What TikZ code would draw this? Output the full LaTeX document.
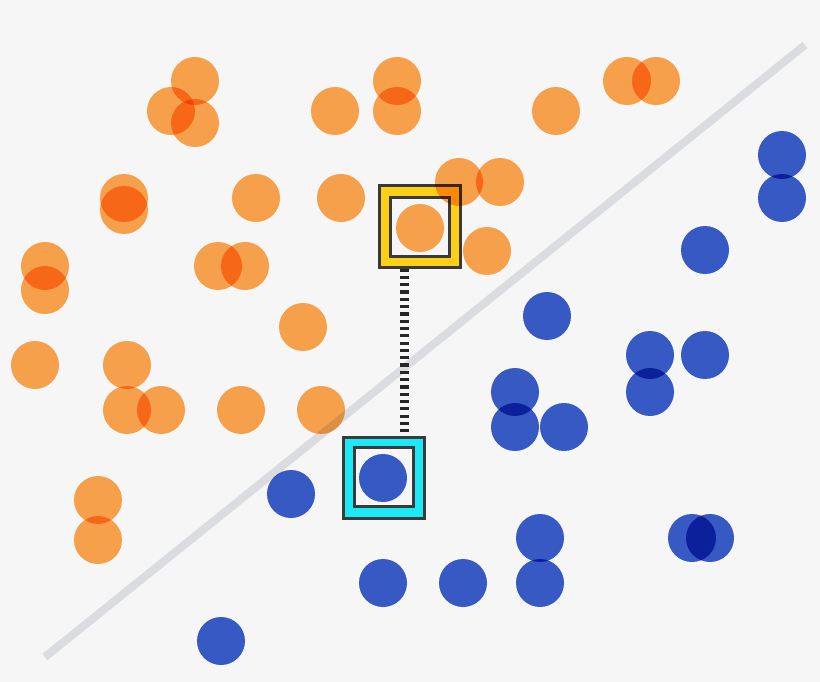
\documentclass[tikz,border=0pt]{standalone}
\definecolor{bgc}{RGB}{246,246,246}
\definecolor{orgc}{RGB}{255,166,79}
\definecolor{bluc}{RGB}{57,93,203}
\definecolor{sepc}{RGB}{218,220,224}
\definecolor{ysqc}{RGB}{253,208,23}
\definecolor{csqc}{RGB}{29,233,246}
\definecolor{frmc}{RGB}{58,58,58}
\tikzset{
  dotA/.style={circle, inner sep=0pt, minimum size=48pt, fill=orgc, blend mode=multiply},
  dotB/.style={circle, inner sep=0pt, minimum size=48pt, fill=bluc, blend mode=multiply},
  outersq/.style={rectangle, inner sep=0pt, minimum size=81pt, draw=frmc, line width=3pt},
  innersq/.style={rectangle, inner sep=0pt, minimum size=59pt, draw=frmc, line width=3pt, fill=bgc},
  sepline/.style={draw=sepc, line width=8pt},
  linkline/.style={draw=black!85, line width=9pt, dash pattern=on 3.2pt off 4.1pt}
}
\begin{document}
\begin{tikzpicture}[x=1pt,y=-1pt]
\fill[bgc] (0,0) rectangle (820,682);
\useasboundingbox (0,0) rectangle (820,682);
\coordinate (l1) at (45,657);
\coordinate (l2) at (805,45);
\draw[sepline] (l1) -- (l2);
% highlight squares
\node[outersq, fill=ysqc] (ys) at (420,226.5) {};
\node[innersq] (yi) at (420,227) {};
\node[outersq, fill=csqc] (cs) at (383.5,478) {};
\node[innersq] (ci) at (383.5,476.5) {};
% orange points
\foreach \x/\y [count=\i] in {195/81,171/111,195/123,335/111,397/81,397/111,556/111,627/81,656/81,
  124/198,124/210,256/198,341/198,459/182,500/182,420/228,487/251,45/266,45/290,218/266,245/266,
  303/327,35/365,127/365,127/410,161/410,241/410,321/410,98/500,98/540}
  \node[dotA] (o\i) at (\x,\y) {};
% blue points
\foreach \x/\y [count=\i] in {782/155,782/198,705/250,547/316,650/355,705/355,650/392,515/392,515/427,
  564/427,383/478,291/494,540/538,692/538,710/538,383/583,463/583,540/583,221/641}
  \node[dotB] (b\i) at (\x,\y) {};
% link between the two highlighted points
\coordinate (lx) at (404,0);
\draw[linkline] (ys.south -| lx) -- (cs.north -| lx);
\end{tikzpicture}
\end{document}
